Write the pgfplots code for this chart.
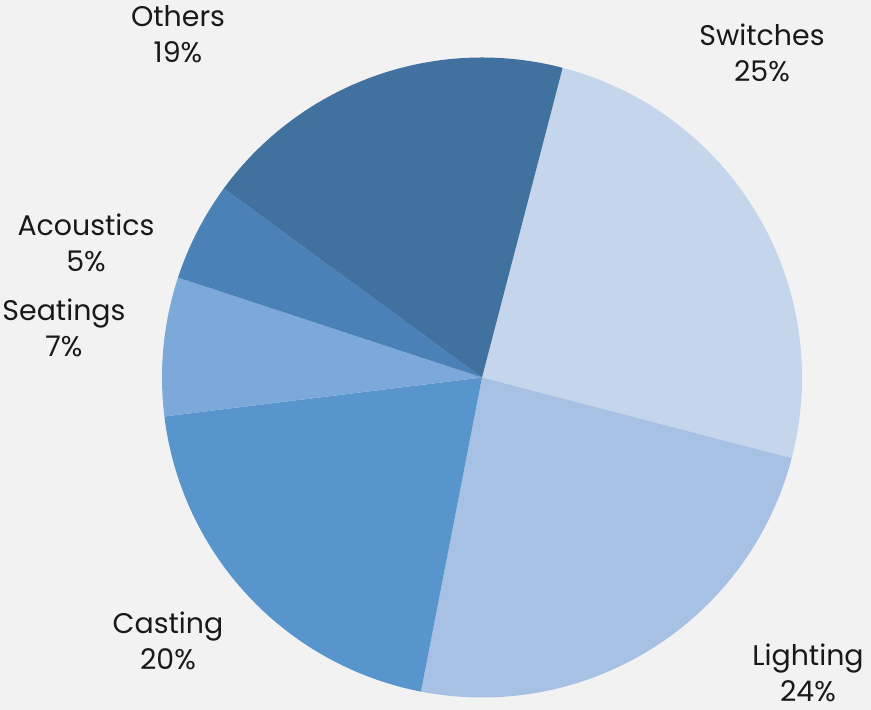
\documentclass[border=0pt]{standalone}
\usepackage{pgfplots}
\pgfplotsset{compat=1.18}
\usepackage{fontspec}
\setmainfont{Poppins}
\definecolor{bg}{HTML}{F2F2F2}
\definecolor{cSwitches}{HTML}{C5D5EB}
\definecolor{cLighting}{HTML}{A6C1E4}
\definecolor{cCasting}{HTML}{5795CC}
\definecolor{cSeatings}{HTML}{7CA8DA}
\definecolor{cAcoustics}{HTML}{4A81B6}
\definecolor{cOthers}{HTML}{41719F}
\begin{document}
\begin{tikzpicture}
\useasboundingbox[fill=bg] (0,0) rectangle (435.5pt,355pt);
\begin{axis}[at={(0,0)}, anchor=south west,
  width=435.5pt, height=355pt, scale only axis,
  xmin=0, xmax=871, ymin=0, ymax=710,
  axis lines=none, clip=false,
  every axis plot/.append style={draw=none, samples=80, smooth=false}]
% percentages: Switches 25, Lighting 24, Casting 20, Seatings 7, Acoustics 5, Others 19
% start at 75.4 deg, clockwise, 3.6 deg per percent
\addplot[fill=cSwitches, domain=-14.6:75.4] ({482+320*cos(x)},{332.5+320*sin(x)}) -- (482,332.5) -- cycle;
\addplot[fill=cLighting, domain=-101:-14.6] ({482+320*cos(x)},{332.5+320*sin(x)}) -- (482,332.5) -- cycle;
\addplot[fill=cCasting, domain=-173:-101] ({482+320*cos(x)},{332.5+320*sin(x)}) -- (482,332.5) -- cycle;
\addplot[fill=cSeatings, domain=-198.2:-173] ({482+320*cos(x)},{332.5+320*sin(x)}) -- (482,332.5) -- cycle;
\addplot[fill=cAcoustics, domain=-216.2:-198.2] ({482+320*cos(x)},{332.5+320*sin(x)}) -- (482,332.5) -- cycle;
\addplot[fill=cOthers, domain=-284.6:-216.2] ({482+320*cos(x)},{332.5+320*sin(x)}) -- (482,332.5) -- cycle;
\tikzset{lab/.style={align=center, font=\fontsize{14.2pt}{18pt}\selectfont, text=black!90, inner sep=0pt}}
\node[lab] at (axis cs:762,657) {Switches\\25\%};
\node[lab] at (axis cs:808,37) {Lighting\\24\%};
\node[lab] at (axis cs:168,69) {Casting\\20\%};
\node[lab] at (axis cs:64,382) {Seatings\\7\%};
\node[lab] at (axis cs:86,467) {Acoustics\\5\%};
\node[lab] at (axis cs:178,676) {Others\\19\%};
\end{axis}
\end{tikzpicture}
\end{document}
